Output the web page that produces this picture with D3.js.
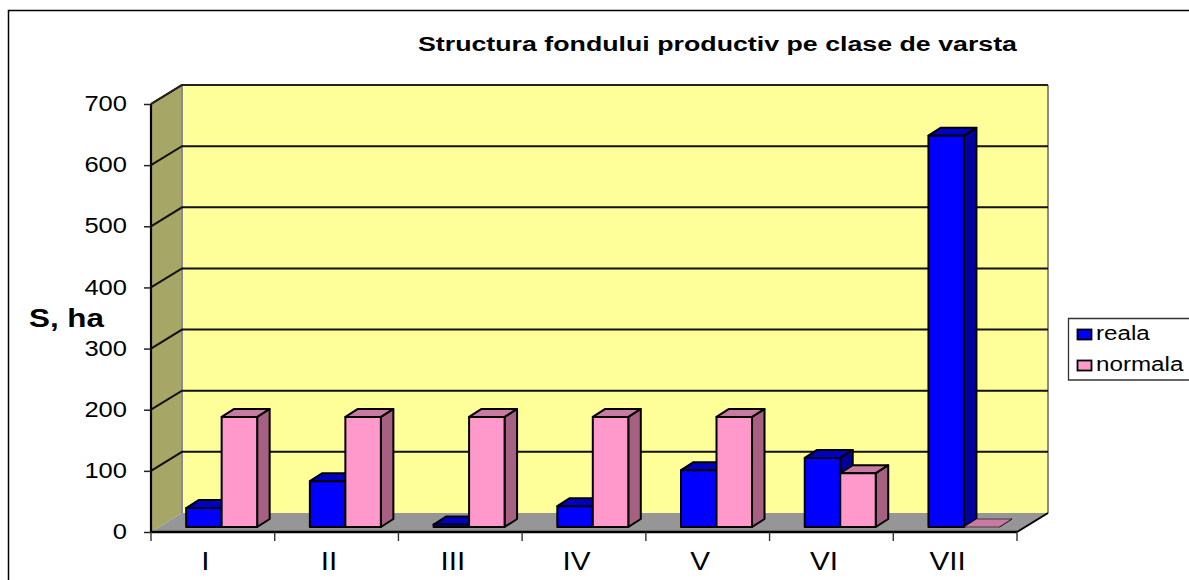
<!DOCTYPE html>
<html><head><meta charset="utf-8">
<script src="https://cdn.jsdelivr.net/npm/d3@7/dist/d3.min.js"></script>
<style>
html,body{margin:0;padding:0;background:#fff}
svg{display:block}
text{font-family:"Liberation Sans",Arial,sans-serif;fill:#000}
</style></head><body>
<svg id="c" width="1189" height="580"></svg>
<script>
const titleText = "Structura fondului productiv pe clase de varsta";
const yTitle = "S, ha";
const categories = ["I","II","III","IV","V","VI","VII"];
const seriesNames = ["reala","normala"];
const reala = [31,75,4,34,93,113,640];
const normala = [180,180,180,180,180,88,0];
const yTicks = [0,100,200,300,400,500,600,700];

const svg=d3.select("#c");
const x=d3.scaleBand().domain(categories).range([151,1017]).paddingInner(0).paddingOuter(0);
const y=d3.scaleLinear().domain([0,700]).range([532,104]);
const wallDx=31, wallDy=-19;
const barDx0=8.8, barDy0=-5, barDx=12.5, barDy=-8;
const barW=35.5;
const colors={reala:{front:"#0000ff",top:"#0000c4",side:"#00009e"},
              normala:{front:"#ff99cc",top:"#c87aa0",side:"#a56082"}};
const pts=a=>a.map(p=>p.join(",")).join(" ");
// the reference is stretched horizontally: widen glyphs by factor k
const stretch=(sel,k)=>sel.each(function(){
  const n=this.getComputedTextLength();
  d3.select(this).attr("textLength",n*k).attr("lengthAdjust","spacingAndGlyphs");
});

svg.append("path").attr("d","M8.5,580V10.5H1189").attr("fill","none").attr("stroke","#000").attr("stroke-width",1.5);

svg.append("text").attr("x",418).attr("y",51)
  .attr("font-size",20).attr("font-weight","bold").attr("textLength",599).attr("lengthAdjust","spacingAndGlyphs").text(titleText);

const [x0,x1]=x.range(), y0=y(0), yT=y(700);
svg.append("rect").attr("x",x0+wallDx).attr("y",yT+wallDy).attr("width",x1-x0).attr("height",y0-yT)
  .attr("fill","#ffff99");
svg.append("polygon").attr("points",pts([[x0,y0],[x0+wallDx,y0+wallDy],[x0+wallDx,yT+wallDy],[x0,yT]]))
  .attr("fill","#a6a666");
svg.append("polygon").attr("points",pts([[x0,y0],[x1,y0],[x1+wallDx,y0+wallDy],[x0+wallDx,y0+wallDy]]))
  .attr("fill","#969696");
svg.append("path").attr("d",`M${x0+wallDx},${yT+wallDy}V${y0+wallDy}M${x1+wallDx},${yT+wallDy}V${y0+wallDy}`)
  .attr("stroke","#8a8a8a").attr("stroke-width",2).attr("fill","none");

svg.append("g").selectAll("path").data(yTicks.filter(d=>d>0)).join("path")
  .attr("d",d=>`M${x0},${y(d)}L${x0+wallDx},${y(d)+wallDy}H${x1+wallDx}`)
  .attr("fill","none").attr("stroke","#111").attr("stroke-width",2);

const yAxis=d3.axisLeft(y).tickValues(yTicks).tickSize(7).tickPadding(17);
const gy=svg.append("g").attr("transform",`translate(${x0},0)`).call(yAxis);
gy.selectAll("text").attr("font-size",22).attr("font-family",'"Liberation Sans",Arial,sans-serif').attr("dy","0.3em").call(stretch,1.16);
gy.selectAll("line").attr("stroke","#222").attr("stroke-width",1.5);
gy.select(".domain").attr("stroke","#000").attr("stroke-width",2.2).attr("d",`M0,${yT}V${y0}`);

svg.append("path").attr("d",`M${x0},${yT}L${x0+wallDx},${yT+wallDy}H${x1+wallDx}`).attr("fill","none").attr("stroke","#222").attr("stroke-width",2);
svg.append("path").attr("d",`M${x1},${y0}L${x1+wallDx},${y0+wallDy}`).attr("fill","none").attr("stroke","#000").attr("stroke-width",2);

const xAxis=d3.axisBottom(x).tickSize(0).tickPadding(20);
const gx=svg.append("g").attr("transform",`translate(-7.5,${y0})`).call(xAxis);
gx.selectAll("text").attr("font-size",26).attr("font-family",'"Liberation Sans",Arial,sans-serif').attr("fill","#222").call(stretch,1.14);
gx.select(".domain").attr("stroke","#000").attr("stroke-width",2.4).attr("d",`M${x0+7.5},0H${x1+7.5}`);
gx.selectAll(".edge").data(d3.range(categories.length+1)).join("line").attr("class","edge")
  .attr("x1",i=>x0+7.5+i*x.bandwidth()).attr("x2",i=>x0+7.5+i*x.bandwidth()).attr("y1",0).attr("y2",9)
  .attr("stroke","#333").attr("stroke-width",1.4);

svg.append("text").attr("x",29).attr("y",327).attr("font-size",25).attr("font-weight","bold").attr("textLength",75).attr("lengthAdjust","spacingAndGlyphs").text(yTitle);

const barData=categories.flatMap((c,i)=>[
  {c,i,s:"reala",v:reala[i],k:0},{c,i,s:"normala",v:normala[i],k:1}]);
const bars=svg.append("g").selectAll("g").data(barData).join("g");
const geo=d=>{
  const cx=x(d.c)+x.bandwidth()/2+barDx0;
  const l=cx-barW+d.k*barW, r=l+barW, b=y(0)+barDy0, t=b-(y(0)-y(d.v));
  return {l,r,b,t};
};
bars.append("polygon").attr("points",d=>{const g=geo(d);return pts([[g.r,g.b],[g.r+barDx,g.b+barDy],[g.r+barDx,g.t+barDy],[g.r,g.t]]);})
  .attr("fill",d=>colors[d.s].side);
bars.append("polygon").attr("points",d=>{const g=geo(d);return pts([[g.l,g.t],[g.r,g.t],[g.r+barDx,g.t+barDy],[g.l+barDx,g.t+barDy]]);})
  .attr("fill",d=>colors[d.s].top);
bars.append("rect").attr("x",d=>geo(d).l).attr("y",d=>geo(d).t).attr("width",barW).attr("height",d=>geo(d).b-geo(d).t)
  .attr("fill",d=>colors[d.s].front);
bars.selectAll("polygon,rect").attr("stroke","#000").attr("stroke-width",d=>d.v===0?0.6:2).attr("stroke-linejoin","round");

const lg=svg.append("g");
lg.append("path").attr("d","M1189,318.5H1068.5V380H1189").attr("fill","#fff").attr("stroke","#333").attr("stroke-width",1.3);
const lgY=d3.scalePoint().domain(seriesNames).range([334,365]);
const items=lg.selectAll("g").data(seriesNames).join("g").attr("transform",d=>`translate(0,${lgY(d)})`);
items.append("rect").attr("x",1077.5).attr("y",-4.5).attr("width",14).attr("height",10)
  .attr("fill",d=>colors[d].front).attr("stroke","#000").attr("stroke-width",1.8);
items.append("text").attr("x",1096).attr("y",5.5).attr("font-size",19.5).text(d=>d).call(stretch,1.24);
</script>
</body></html>
